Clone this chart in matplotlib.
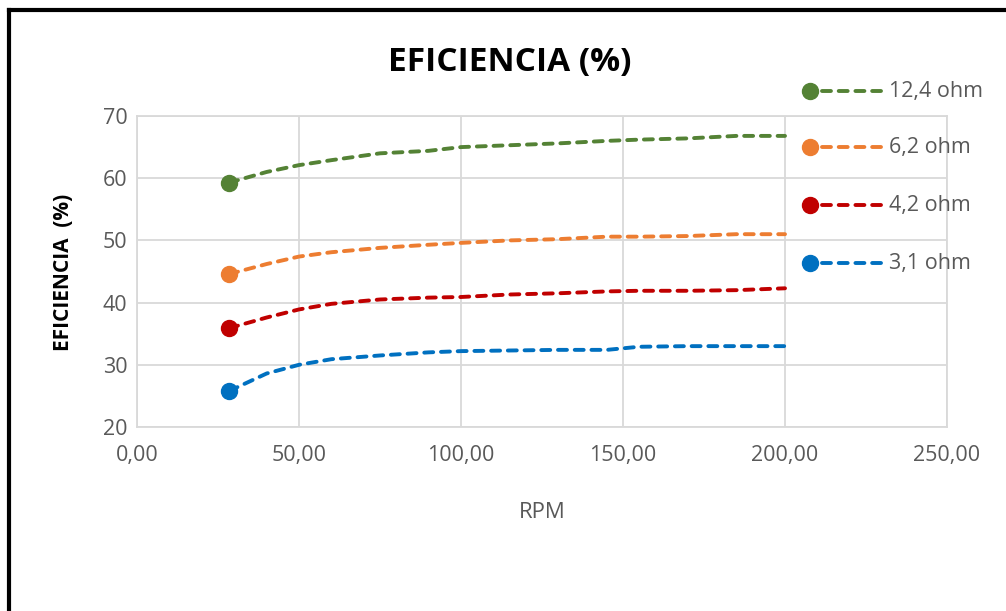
import matplotlib
matplotlib.use("Agg")
import matplotlib.pyplot as plt
from matplotlib.lines import Line2D

plt.rcParams['font.family'] = ['Open Sans', 'DejaVu Sans']

# data
rpm = [28.5, 40, 50, 60, 75, 90, 100, 115, 130, 145, 155, 170, 185, 200]
ef_124 = [59.3, 61.0, 62.1, 62.9, 64.0, 64.4, 65.0, 65.3, 65.6, 66.0, 66.2, 66.4, 66.8, 66.8]
ef_62 = [44.6, 46.2, 47.4, 48.1, 48.8, 49.3, 49.6, 50.0, 50.2, 50.6, 50.6, 50.7, 51.0, 51.0]
ef_42 = [35.9, 37.6, 38.9, 39.8, 40.5, 40.8, 40.9, 41.3, 41.5, 41.8, 41.9, 41.9, 42.0, 42.3]
ef_31 = [25.8, 28.6, 30.0, 30.9, 31.5, 32.0, 32.2, 32.3, 32.4, 32.4, 32.9, 33.0, 33.0, 33.0]

labels = ['12,4 ohm', '6,2 ohm', '4,2 ohm', '3,1 ohm']
colors = ['#548235', '#ED7D31', '#C00000', '#0070C0']
series = [ef_124, ef_62, ef_42, ef_31]

x_ticks = [0, 50, 100, 150, 200, 250]
x_ticklabels = ['0,00', '50,00', '100,00', '150,00', '200,00', '250,00']
y_ticks = [20, 30, 40, 50, 60, 70]

W, H = 1006, 611
fig = plt.figure(figsize=(W / 100, H / 100), dpi=100)
ax = fig.add_axes([137 / W, 1 - 427 / H, 810 / W, 311 / H])

grid_c = '#d9d9d9'
text_c = '#595959'
lw = 2.8
dash = (2.3, 2.0)
ms = 11.5

for vals, lab, c in zip(series, labels, colors):
    ax.plot(rpm, vals, color=c, lw=lw, linestyle=(0, dash), dash_capstyle='round',
            marker='o', markevery=[0], markersize=ms, label=lab, zorder=3)

ax.set_xlim(0, 250)
ax.set_ylim(20, 70)
ax.set_xticks(x_ticks)
ax.set_xticklabels(x_ticklabels)
ax.set_yticks(y_ticks)
ax.grid(True, color=grid_c, lw=1.3)
ax.set_axisbelow(True)
for s in ax.spines.values():
    s.set_color(grid_c)
    s.set_linewidth(1.3)
ax.tick_params(length=0, labelsize=15.5, labelcolor=text_c)
ax.tick_params(axis='y', pad=7)
ax.tick_params(axis='x', pad=13)

ax.set_xlabel('RPM', fontsize=16, color=text_c, labelpad=26)
fig.text(64 / W, 1 - 272 / H, 'EFICIENCIA  (%)', rotation=90, fontsize=15,
         fontweight='bold', color='black', ha='center', va='center')
fig.text(510 / W, 1 - 62 / H, 'EFICIENCIA (%)', fontsize=24, fontweight='bold',
         color='black', ha='center', va='center')

# legend drawn by hand: marker at the left end of the dashed sample
leg_y = [91, 147, 205, 263]
for ly, lab, c in zip(leg_y, labels, colors):
    yf = 1 - ly / H
    fig.add_artist(Line2D([822 / W, 881 / W], [yf, yf], color=c, lw=lw,
                          linestyle=(0, dash), dash_capstyle='round'))
    fig.add_artist(Line2D([810 / W], [yf], color=c, marker='o', markersize=ms, lw=0))
    fig.text(889 / W, yf, lab, fontsize=15.5, color=text_c, va='center', ha='left')

# black frame (left and top edges visible in the crop)
fig.add_artist(Line2D([9 / W, 9 / W], [0, 1 - 10 / H], color='black', lw=3))
fig.add_artist(Line2D([9 / W, 1], [1 - 10 / H, 1 - 10 / H], color='black', lw=3))

fig.savefig('out.png', dpi=100)
